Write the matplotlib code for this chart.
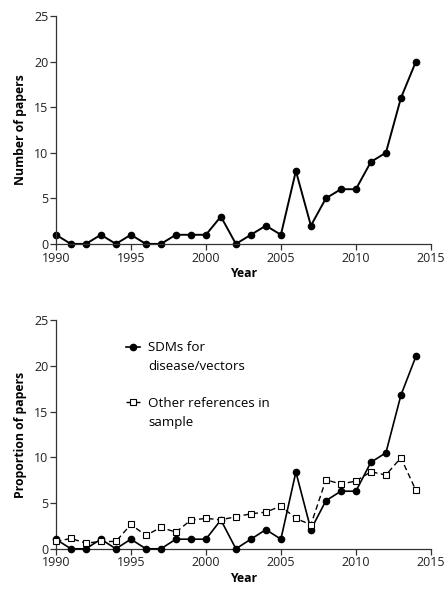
import numpy as np
import matplotlib
matplotlib.use("Agg")
import matplotlib.pyplot as plt
from matplotlib.lines import Line2D

plt.rcParams['font.family'] = ['Open Sans', 'DejaVu Sans']

years = list(range(1990, 2015))
n_papers = [1, 0, 0, 1, 0, 1, 0, 0, 1, 1, 1, 3, 0, 1, 2, 1, 8, 2, 5, 6, 6, 9, 10, 16, 20]
prop_sdm = [1.05, 0, 0, 1.05, 0, 1.05, 0, 0, 1.05, 1.05, 1.05, 3.15, 0, 1.05, 2.1, 1.05,
            8.4, 2.1, 5.26, 6.3, 6.3, 9.47, 10.5, 16.8, 21.05]
prop_other = [0.8, 1.13, 0.62, 0.8, 0.8, 2.66, 1.46, 2.34, 1.82, 3.14, 3.32, 3.18, 3.5,
              3.83, 4.01, 4.67, 3.32, 2.63, 7.55, 7.08, 7.41, 8.43, 8.07, 9.96, 6.39]
legend_lines = ['SDMs for', 'disease/vectors', '', 'Other references in', 'sample']

fig = plt.figure(figsize=(4.47, 5.92), dpi=100)
ax1 = fig.add_axes([0.125, 0.588, 0.839, 0.385])
ax2 = fig.add_axes([0.125, 0.073, 0.839, 0.386])


def style(ax, ylabel):
    for s in ['top', 'right']:
        ax.spines[s].set_visible(False)
    for s in ['left', 'bottom']:
        ax.spines[s].set_color('#333333')
        ax.spines[s].set_linewidth(0.9)
    ax.set_xlim(1990, 2015)
    ax.set_ylim(0, 25)
    ax.set_xticks(range(1990, 2016, 5))
    ax.set_yticks(range(0, 26, 5))
    ax.tick_params(direction='out', length=4, width=0.9, color='#333333',
                   labelsize=9, pad=1.5, labelcolor='#222222')
    ax.set_xlabel('Year', fontsize=8.8, fontweight='bold', labelpad=2)
    ax.set_ylabel(ylabel, fontsize=8.8, fontweight='bold', labelpad=5)


ax1.plot(years, n_papers, color='black', lw=1.4, marker='o', ms=4.5, clip_on=False)
style(ax1, 'Number of papers')

sdm, = ax2.plot(years, prop_sdm, color='black', lw=1.2, marker='o', ms=4.5, clip_on=False,
                zorder=3)
other, = ax2.plot(years, prop_other, color='black', lw=1.0, ls=(0, (4, 2.5)), marker='s',
                  ms=4.5, mfc='white', mec='black', mew=0.8, clip_on=False, zorder=4)
style(ax2, 'Proportion of papers')

blank = Line2D([], [], color='none')
ax2.legend([sdm, blank, blank, other, blank], legend_lines,
           loc='upper left', bbox_to_anchor=(0.168, 0.937), frameon=False, fontsize=9.6,
           handlelength=1.1, handletextpad=0.6, labelspacing=0.42, borderpad=0)

fig.savefig('out.png', dpi=100)
